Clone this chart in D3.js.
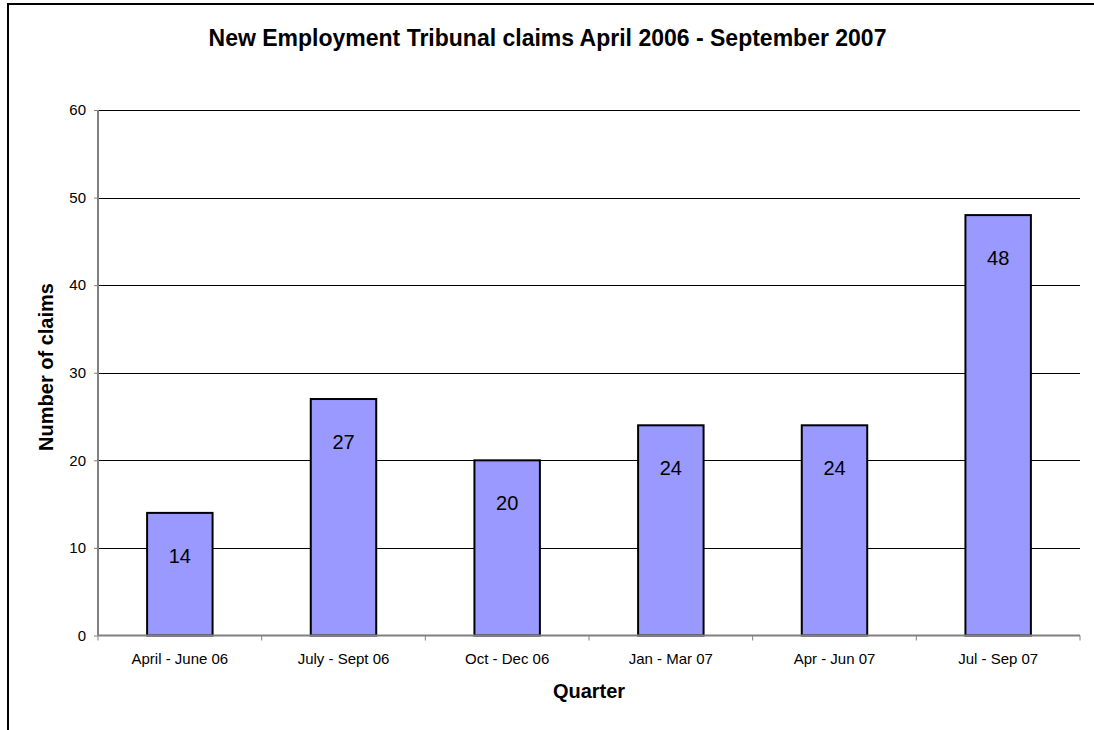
<!DOCTYPE html>
<html><head><meta charset="utf-8">
<script src="https://cdn.jsdelivr.net/npm/d3@7"></script>
<style>html,body{margin:0;background:#fff;overflow:hidden}svg{display:block}</style>
</head><body>
<svg id="c" width="1094" height="730"></svg>
<script>
const categories = ["April - June 06","July - Sept 06","Oct - Dec 06","Jan - Mar 07","Apr - Jun 07","Jul - Sep 07"];
const values = [14,27,20,24,24,48];
const yTicks = [0,10,20,30,40,50,60];
const title = "New Employment Tribunal claims April 2006 - September 2007";
const xTitle = "Quarter";
const yTitle = "Number of claims";

const svg = d3.select("#c");
const font = "Liberation Sans, Arial, sans-serif";
const m = {left:98, right:1080, top:110, bottom:635.5};

// outer chart frame (right and bottom edges lie outside the window)
svg.append("path").attr("d","M8,740V4H1100").attr("fill","none")
  .attr("stroke","#000").attr("stroke-width",2);

const x = d3.scaleBand().domain(categories).range([m.left,m.right]).paddingInner(0.6).paddingOuter(0.3);
const xb = d3.scaleBand().domain(categories).range([m.left,m.right]);
const y = d3.scaleLinear().domain([0,60]).range([m.bottom,m.top]);

// gridlines
svg.append("g").selectAll("line").data(yTicks.filter(t=>t>0)).join("line")
  .attr("x1",m.left).attr("x2",m.right).attr("y1",d=>Math.round(y(d))+0.5).attr("y2",d=>Math.round(y(d))+0.5)
  .attr("stroke","#000").attr("stroke-width",1);

// bars
svg.append("g").selectAll("rect").data(values).join("rect")
  .attr("x",(d,i)=>x(categories[i])).attr("width",x.bandwidth())
  .attr("y",d=>y(d)).attr("height",d=>y(0)-y(d))
  .attr("fill","#9999FF").attr("stroke","#000").attr("stroke-width",2);

// value labels
svg.append("g").selectAll("text").data(values).join("text")
  .attr("x",(d,i)=>x(categories[i])+x.bandwidth()/2).attr("y",d=>y(d)+50)
  .attr("text-anchor","middle").attr("font-family",font).attr("font-size",20).attr("fill","#000")
  .text(d=>d);

// y axis
const yAxis = d3.axisLeft(y).tickValues(yTicks).tickSize(4).tickPadding(8);
const gy = svg.append("g").attr("transform",`translate(${m.left},0)`).call(yAxis);
gy.select(".domain").attr("stroke","#808080").attr("stroke-width",2).attr("d",`M0,${m.top}V${m.bottom}`);
gy.selectAll(".tick line").attr("stroke","#808080");
gy.selectAll(".tick text").attr("font-family",font).attr("font-size",15).attr("fill","#000");

// x axis
const gx = svg.append("g").attr("transform",`translate(0,${m.bottom})`);
gx.append("line").attr("x1",m.left).attr("x2",m.right).attr("stroke","#808080").attr("stroke-width",2);
const bounds = categories.map(c=>xb(c)).concat([m.right]);
gx.selectAll("line.t").data(bounds).join("line").attr("class","t")
  .attr("x1",d=>d).attr("x2",d=>d).attr("y1",0).attr("y2",5).attr("stroke","#808080");
gx.selectAll("text").data(categories).join("text")
  .attr("x",d=>xb(d)+xb.bandwidth()/2).attr("y",28)
  .attr("text-anchor","middle").attr("font-family",font).attr("font-size",15).attr("fill","#000")
  .text(d=>d);

// titles
svg.append("text").attr("x",547.5).attr("y",46).attr("text-anchor","middle")
  .attr("font-family",font).attr("font-weight","bold").attr("font-size",23).text(title);
svg.append("text").attr("x",(m.left+m.right)/2).attr("y",698).attr("text-anchor","middle")
  .attr("font-family",font).attr("font-weight","bold").attr("font-size",20).text(xTitle);
svg.append("text").attr("transform",`translate(53,367) rotate(-90)`).attr("text-anchor","middle")
  .attr("font-family",font).attr("font-weight","bold").attr("font-size",20).text(yTitle);
</script>
</body></html>
